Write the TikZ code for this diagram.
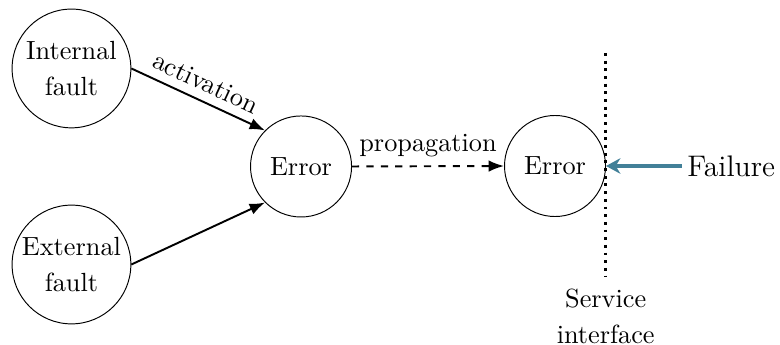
\documentclass[tikz,border=0pt,11pt]{standalone}
\usepackage{amsmath}
\usepackage{xcolor}
\usepackage{tikz}
\usetikzlibrary{arrows.meta}
\definecolor{failblue}{RGB}{66,128,152}
\tikzset{
  faultnode/.style={draw, circle, minimum size=1.74cm, inner sep=0pt, align=center},
  errnode/.style={draw, circle, minimum size=1.48cm, inner sep=0pt},
}
\begin{document}
\begin{tikzpicture}[>={Latex[length=6.4pt,width=4.8pt]}]
\useasboundingbox (0,0) rectangle (11.427,5.054);
\node [faultnode] (intf) at (1.047,4.051) {Internal\\[1.4pt]fault};
\node [faultnode] (extf) at (1.047,1.179) {External\\[1.4pt]fault};
\node [errnode] (err1) at (4.410,2.615) {Error};
\node [errnode] (err2) at (8.131,2.622) {Error};
\draw [thick, ->] (intf.east) -- (err1.north west) node [midway, above, sloped] {activation};
\draw [thick, ->] (extf.east) -- (err1.south west);
\draw [thick, dashed, ->] (err1.east) -- (err2.west) node [midway, above] {propagation};
% service interface
\coordinate (sitop) at (8.873,4.278);
\coordinate (sibot) at (8.873,1.011);
\draw [very thick, dotted] (sitop) -- (sibot);
\node [align=center] (silabel) at (8.873,0.42) {Service\\[1.4pt]interface};
\node [anchor=west, inner sep=2pt, font=\fontsize{12.4}{15}\selectfont] (fail) at (9.991,2.622) {Failure};
\draw [failblue, line width=1.6pt, -{Stealth[length=6pt,width=6.5pt,inset=2pt]}] (fail.west) -- (err2.east);
\end{tikzpicture}
\end{document}
